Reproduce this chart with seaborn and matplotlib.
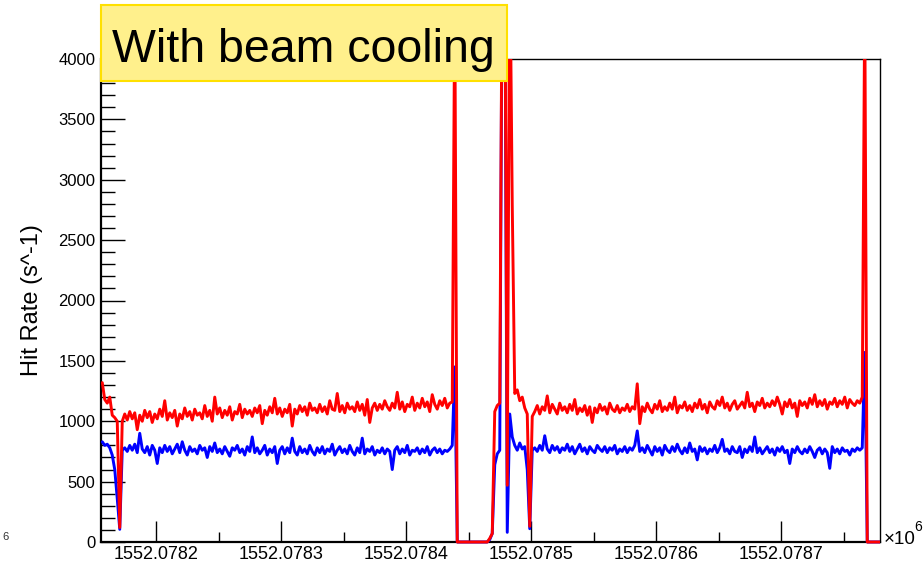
import numpy as np
import pandas as pd
import matplotlib
matplotlib.use("Agg")
import matplotlib.pyplot as plt
from matplotlib.ticker import MultipleLocator
from matplotlib.patches import Rectangle
import seaborn as sns

# Sampling grid of the rate monitor (unix seconds)
t_start = 1552078157.0
t_step = 2.0

# Hit rate, red channel (s^-1)
rate_red = [
    1320, 1180, 1150, 1200, 1050, 1030, 1000, 120,
    1000,
    1060, 1010, 1080, 1020, 1070, 930, 1050, 1000, 1090, 1030, 1080, 990, 1060,
    1020, 1100, 1040, 1170, 1010, 1070, 1030, 1090, 960, 1060, 1020, 1110, 1040,
    1080, 1010, 1100, 1050, 1070, 1020, 1130, 1040, 1090, 1000, 1200, 1060, 1110,
    1030, 1090, 1050, 1120, 1010, 1080, 1060, 1140, 1030, 1100, 1060, 1090, 1040,
    1110, 1070, 1130, 980, 1090, 1050, 1120, 1070, 1190, 1060, 1110, 1040, 1100,
    1070, 1140, 960, 1100, 1060, 1130, 1080, 1120, 1050, 1150, 1090, 1110, 1070,
    1140, 1080, 1120, 1060, 1170, 1100, 1090, 1230, 1080, 1130, 1070, 1150, 1100,
    1120, 1080, 1160, 1090, 1140, 1050, 1180, 990, 1110, 1150, 1090, 1140, 1100,
    1170, 1120, 1090, 1150, 1110, 1240, 1100, 1160, 1080, 1140, 1120, 1200, 1090,
    1150, 1110, 1190, 1120, 1160, 1080, 1220, 1140, 1100, 1170, 1130, 1190, 1110,
    1150,
    1160, 4500,
    0, 0, 0, 0, 0, 0, 0, 0, 0, 0, 0, 0, 0,
    30, 70, 1080, 1130, 1150, 5000, 5000, 470, 5000, 2790, 1230, 1260, 1170, 1200, 1110, 1060, 130,
    1040,
    1080, 1130, 1060, 1120, 1090, 1210, 1070, 1140, 1100, 1060, 1150, 1090,
    1120, 1070, 1140, 1090, 1180, 1060, 1110, 1080, 1130, 1050, 1120, 990,
    1110, 1070, 1140, 1090, 1120, 1060, 1150, 1100, 1080, 1130, 1070, 1110,
    1090, 1140, 1080, 1120, 1100, 1310, 980, 1120, 1080, 1150, 1100, 1070,
    1140, 1100, 1170, 1080, 1120, 1090, 1150, 1100, 1200, 1070, 1130, 1110,
    1160, 1090, 1130, 1080, 1150, 1110, 1180, 1100, 1140, 1070, 1160, 1120,
    1100, 1170, 1130, 1200, 1110, 1150, 1090, 1140, 1170, 1100, 1130, 1160,
    1110, 1240, 1120, 1150, 1080, 1160, 1130, 1190, 1110, 1150, 1120, 1170,
    1130, 1200, 1140, 1060, 1160, 1120, 1180, 1110, 1150, 1040, 1170, 1130,
    1160, 1110, 1190, 1140, 1220, 1120, 1170, 1130, 1180, 1100, 1160, 1140,
    1190, 1120, 1170, 1140, 1200, 1110, 1180, 1150, 1130, 1170, 1150, 1200,
    4500,
    0, 0, 0, 0, 0, 0, 0,
]

# Hit rate, blue channel (s^-1)
rate_blue = [
    830, 800, 810, 780, 720, 600, 360, 105,
    760,
    780, 750, 800, 760, 810, 740, 900, 770, 740, 790, 720, 800, 760,
    650, 780, 740, 800, 750, 790, 730, 770, 810, 740, 830, 760, 720,
    790, 750, 770, 730, 800, 760, 780, 700, 790, 750, 820, 740, 770,
    730, 790, 750, 710, 780, 760, 800, 740, 770, 720, 790, 750, 870,
    740, 780, 730, 760, 800, 720, 770, 740, 790, 650, 760, 790, 730,
    780, 740, 860, 750, 720, 790, 740, 770, 730, 800, 750, 720, 780,
    740, 790, 730, 770, 750, 810, 720, 760, 790, 740, 770, 730, 800,
    750, 720, 780, 740, 860, 730, 770, 750, 790, 720, 760, 740, 780,
    730, 770, 750, 600, 760, 790, 730, 770, 740, 800, 720, 760, 750,
    780, 730, 770, 740, 790, 720, 760, 780, 740, 770, 730, 760, 750,
    770,
    800, 1450,
    0, 0, 0, 0, 0, 0, 0, 0, 0, 0, 0, 0, 0,
    20, 70, 640, 730, 760, 5000, 5000, 80, 1060, 870, 800, 760, 820, 770, 790, 600, 110,
    760,
    780, 750, 800, 760, 880, 770, 740, 800, 760, 790, 740, 780,
    760, 810, 750, 790, 730, 770, 810, 750, 780, 730, 790, 760,
    740, 800, 770, 750, 790, 740, 780, 760, 800, 730, 770, 750,
    790, 740, 780, 760, 800, 920, 750, 780, 740, 800, 760, 720,
    790, 750, 780, 720, 800, 760, 740, 790, 750, 810, 760, 730,
    780, 740, 820, 750, 770, 680, 790, 750, 780, 730, 770, 750,
    800, 740, 780, 850, 750, 770, 730, 790, 750, 740, 790, 700,
    770, 740, 790, 750, 870, 740, 780, 730, 760, 790, 740, 770,
    720, 780, 750, 790, 740, 760, 650, 770, 740, 790, 750, 730,
    770, 740, 790, 750, 700, 760, 780, 730, 770, 740, 610, 790,
    740, 770, 730, 780, 750, 760, 720, 770, 750, 780, 760, 780,
    1570,
    0, 0, 0, 0, 0, 0, 0,
]

x_ticks = [1552078200, 1552078300, 1552078400, 1552078500, 1552078600, 1552078700]
x_tick_labels = ["1552.0782", "1552.0783", "1552.0784", "1552.0785", "1552.0786", "1552.0787"]
y_ticks = [0, 500, 1000, 1500, 2000, 2500, 3000, 3500, 4000]

times = t_start + t_step * np.arange(len(rate_red))
df = pd.DataFrame({"time": times, "red": rate_red, "blue": rate_blue})

sns.set_theme(style="white")
plt.rcParams["font.family"] = ["Liberation Sans", "DejaVu Sans"]
plt.rcParams["text.color"] = "black"
plt.rcParams["xtick.color"] = "black"
plt.rcParams["ytick.color"] = "black"
plt.rcParams["axes.labelcolor"] = "black"

W, H = 923, 563
fig = plt.figure(figsize=(W / 100, H / 100), dpi=100)
fig.patch.set_facecolor("white")
ax = fig.add_axes([101 / W, 21 / H, 779 / W, 483 / H])
ax.set_facecolor("white")

sns.lineplot(data=df, x="time", y="blue", color="#0000ff", linewidth=2.1,
             estimator=None, sort=False, legend=False, ax=ax, zorder=3)
sns.lineplot(data=df, x="time", y="red", color="#ff0000", linewidth=2.1,
             estimator=None, sort=False, legend=False, ax=ax, zorder=4)

# Let the rate traces sit on top of the zero line instead of being cut in half
clip_rect = Rectangle((0, -0.012), 1.0, 1.012, transform=ax.transAxes,
                      facecolor="none", edgecolor="none")
ax.add_patch(clip_rect)
for line in ax.lines:
    line.set_clip_path(clip_rect)

ax.set_xlim(1552078156.0, 1552078779.2)
ax.set_ylim(0, 4000)
ax.set_xticks(x_ticks)
ax.set_xticklabels(x_tick_labels)
ax.set_yticks(y_ticks)
ax.set_yticklabels([str(v) for v in y_ticks])
ax.xaxis.set_minor_locator(MultipleLocator(50))
ax.yaxis.set_minor_locator(MultipleLocator(100))
ax.set_xlabel("")
ax.set_ylabel("")

ax.tick_params(axis="x", which="major", direction="in", length=15, width=1.0,
               color="black", labelcolor="black", labelsize=13, pad=3, bottom=True, top=False)
ax.tick_params(axis="x", which="minor", direction="in", length=7, width=1.0,
               color="black", bottom=True, top=False)
ax.tick_params(axis="y", which="major", direction="in", length=17, width=1.0,
               color="black", labelcolor="black", labelsize=12, pad=4, left=True, right=False)
ax.tick_params(axis="y", which="minor", direction="in", length=10, width=1.0,
               color="black", left=True, right=False)

for side in ["left", "bottom"]:
    ax.spines[side].set_color("black")
    ax.spines[side].set_linewidth(1.6)
    ax.spines[side].set_zorder(2)
for side in ["top", "right"]:
    ax.spines[side].set_color("black")
    ax.spines[side].set_linewidth(1.0)
ax.grid(False)

# Axis title
fig.text(32 / W, 1 - 300 / H, "Hit Rate (s^-1)", rotation=90, fontsize=17,
         ha="center", va="center", color="black")

# Exponent of the time axis
fig.text(884 / W, 1 - 544 / H, "\u00d710", fontsize=13.5, ha="left", va="baseline", color="black")
fig.text(914 / W, 1 - 531 / H, "6", fontsize=10, ha="left", va="baseline", color="black")
fig.text(2 / W, 1 - 540 / H, "6", fontsize=8, ha="left", va="baseline", color="#333333")

# Caption box
fig.patches.append(Rectangle((101 / W, 1 - 81 / H), 406 / W, 76 / H,
                             transform=fig.transFigure, facecolor="#fff08c",
                             edgecolor="#ffe000", linewidth=1.5, zorder=5))
fig.text(112 / W, 1 - 62 / H, "With beam cooling", fontsize=33.5,
         ha="left", va="baseline", zorder=6, color="black")

fig.savefig("out.png", dpi=100)
